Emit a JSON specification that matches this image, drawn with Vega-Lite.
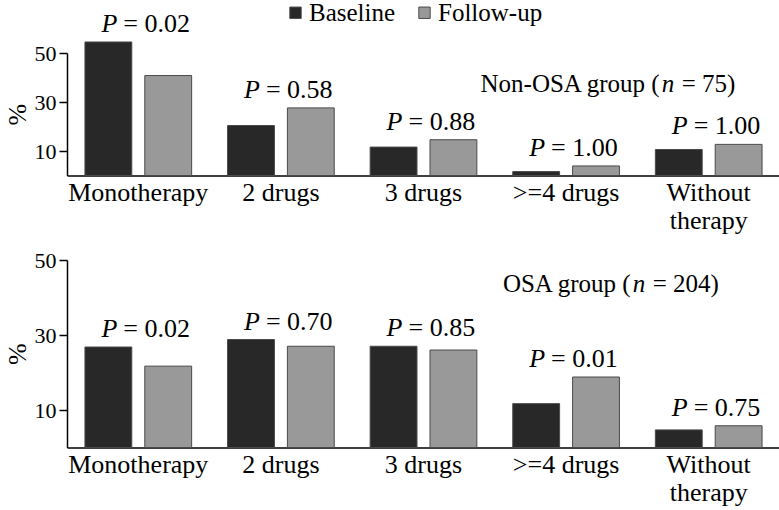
{
  "$schema": "https://vega.github.io/schema/vega-lite/v6.json",
  "background": "white",
  "padding": {"left": 4, "top": 0, "right": 0, "bottom": 0},
  "datasets": {
    "d": [
      {"panel": "Non-OSA", "category": "Monotherapy", "series": "Baseline", "value": 54.5, "ptext": "= 0.02"},
      {"panel": "Non-OSA", "category": "Monotherapy", "series": "Follow-up", "value": 40.8, "ptext": "= 0.02"},
      {"panel": "Non-OSA", "category": "2 drugs", "series": "Baseline", "value": 20.4, "ptext": "= 0.58"},
      {"panel": "Non-OSA", "category": "2 drugs", "series": "Follow-up", "value": 27.6, "ptext": "= 0.58"},
      {"panel": "Non-OSA", "category": "3 drugs", "series": "Baseline", "value": 11.6, "ptext": "= 0.88"},
      {"panel": "Non-OSA", "category": "3 drugs", "series": "Follow-up", "value": 14.6, "ptext": "= 0.88"},
      {"panel": "Non-OSA", "category": ">=4 drugs", "series": "Baseline", "value": 1.6, "ptext": "= 1.00"},
      {"panel": "Non-OSA", "category": ">=4 drugs", "series": "Follow-up", "value": 3.9, "ptext": "= 1.00"},
      {"panel": "Non-OSA", "category": "Without therapy", "series": "Baseline", "value": 10.6, "ptext": "= 1.00"},
      {"panel": "Non-OSA", "category": "Without therapy", "series": "Follow-up", "value": 12.7, "ptext": "= 1.00"},
      {"panel": "OSA", "category": "Monotherapy", "series": "Baseline", "value": 26.8, "ptext": "= 0.02"},
      {"panel": "OSA", "category": "Monotherapy", "series": "Follow-up", "value": 21.7, "ptext": "= 0.02"},
      {"panel": "OSA", "category": "2 drugs", "series": "Baseline", "value": 28.8, "ptext": "= 0.70"},
      {"panel": "OSA", "category": "2 drugs", "series": "Follow-up", "value": 27.0, "ptext": "= 0.70"},
      {"panel": "OSA", "category": "3 drugs", "series": "Baseline", "value": 27.0, "ptext": "= 0.85"},
      {"panel": "OSA", "category": "3 drugs", "series": "Follow-up", "value": 26.0, "ptext": "= 0.85"},
      {"panel": "OSA", "category": ">=4 drugs", "series": "Baseline", "value": 11.7, "ptext": "= 0.01"},
      {"panel": "OSA", "category": ">=4 drugs", "series": "Follow-up", "value": 18.8, "ptext": "= 0.01"},
      {"panel": "OSA", "category": "Without therapy", "series": "Baseline", "value": 4.7, "ptext": "= 0.75"},
      {"panel": "OSA", "category": "Without therapy", "series": "Follow-up", "value": 5.8, "ptext": "= 0.75"}
    ],
    "labels": [
      {"panel": "Non-OSA", "part1": "Non-OSA group (", "n": "n", "part3": "= 75)", "ly": 34.1},
      {"panel": "OSA", "part1": "OSA group (", "n": "n", "part3": "= 204)", "ly": 41.5}
    ]
  },
  "config": {
    "font": "Liberation Serif, Times New Roman, serif",
    "view": {"stroke": null},
    "axis": {"labelColor": "black", "domainColor": "black", "tickColor": "black", "titleColor": "black", "grid": false, "labelFont": "Liberation Serif, Times New Roman, serif", "titleFont": "Liberation Serif, Times New Roman, serif"},
    "legend": {"labelFont": "Liberation Serif, Times New Roman, serif", "labelColor": "black"},
    "text": {"font": "Liberation Serif, Times New Roman, serif", "color": "black"}
  },
  "spacing": 15,
  "vconcat": [
    {
      "width": 713,
      "height": 122.5,
      "layer": [
        {
          "data": {"name": "d"},
          "transform": [{"filter": "datum.panel == 'Non-OSA'"}],
          "mark": {"type": "bar", "clip": false, "stroke": "#4a4a4a", "strokeWidth": 1},
          "encoding": {
            "x": {"field": "category", "type": "nominal", "sort": ["Monotherapy", "2 drugs", "3 drugs", ">=4 drugs", "Without therapy"], "scale": {"paddingInner": 0, "paddingOuter": 0},
              "axis": {"title": null, "labelAngle": 0, "ticks": false, "domainWidth": 1.5, "labelFontSize": 26, "labelPadding": 4, "labelLineHeight": 28, "labelBaseline": "top",
                "labelExpr": "datum.label == 'Without therapy' ? ['Without', 'therapy'] : datum.label"}},
            "xOffset": {"field": "series", "type": "nominal", "sort": ["Baseline", "Follow-up"], "scale": {"paddingInner": 0.217, "paddingOuter": 0.3}},
            "y": {"field": "value", "type": "quantitative", "scale": {"domain": [0, 50], "nice": false},
              "axis": {"title": "%", "titleFontSize": 26, "titleFontWeight": "normal", "titlePadding": 4, "values": [10, 30, 50], "tickSize": 8, "domainWidth": 1.5, "tickWidth": 1.5, "labelFontSize": 22, "labelPadding": 3}},
            "color": {"field": "series", "type": "nominal", "scale": {"domain": ["Baseline", "Follow-up"], "range": ["#282828", "#999999"]},
              "legend": {"title": null, "orient": "none", "legendX": 216, "legendY": -53, "direction": "horizontal", "symbolType": "square", "symbolSize": 130, "symbolStrokeColor": "#333", "symbolStrokeWidth": 1, "labelFontSize": 25, "columnPadding": 16, "symbolOffset": 0, "labelOffset": 1}}
          }
        },
        {
          "data": {"name": "d"},
          "transform": [{"filter": "datum.panel == 'Non-OSA'"}],
          "mark": {"type": "text", "text": "P", "fontStyle": "italic", "fontSize": 26, "align": "right", "baseline": "alphabetic", "dx": -21, "dy": -10},
          "encoding": {
            "x": {"field": "category", "type": "nominal", "sort": ["Monotherapy", "2 drugs", "3 drugs", ">=4 drugs", "Without therapy"]},
            "y": {"aggregate": "max", "field": "value", "type": "quantitative"}
          }
        },
        {
          "data": {"name": "d"},
          "transform": [{"filter": "datum.panel == 'Non-OSA'"}],
          "mark": {"type": "text", "fontSize": 26, "align": "left", "baseline": "alphabetic", "dx": -15, "dy": -10},
          "encoding": {
            "x": {"field": "category", "type": "nominal", "sort": ["Monotherapy", "2 drugs", "3 drugs", ">=4 drugs", "Without therapy"]},
            "y": {"aggregate": "max", "field": "value", "type": "quantitative"},
            "text": {"field": "ptext", "type": "nominal"}
          }
        },
        {
          "data": {"name": "labels"},
          "transform": [{"filter": "datum.panel == 'Non-OSA'"}],
          "mark": {"type": "text", "fontSize": 25, "align": "right", "baseline": "alphabetic", "dx": -49},
          "encoding": {
            "x": {"datum": "Without therapy", "type": "nominal"},
            "y": {"field": "ly", "type": "quantitative"},
            "text": {"field": "part1", "type": "nominal"}
          }
        },
        {
          "data": {"name": "labels"},
          "transform": [{"filter": "datum.panel == 'Non-OSA'"}],
          "mark": {"type": "text", "fontSize": 25, "fontStyle": "italic", "align": "left", "baseline": "alphabetic", "dx": -47},
          "encoding": {
            "x": {"datum": "Without therapy", "type": "nominal"},
            "y": {"field": "ly", "type": "quantitative"},
            "text": {"field": "n", "type": "nominal"}
          }
        },
        {
          "data": {"name": "labels"},
          "transform": [{"filter": "datum.panel == 'Non-OSA'"}],
          "mark": {"type": "text", "fontSize": 25, "align": "left", "baseline": "alphabetic", "dx": -27},
          "encoding": {
            "x": {"datum": "Without therapy", "type": "nominal"},
            "y": {"field": "ly", "type": "quantitative"},
            "text": {"field": "part3", "type": "nominal"}
          }
        }
      ]
    },
    {
      "width": 713,
      "height": 187.5,
      "layer": [
        {
          "data": {"name": "d"},
          "transform": [{"filter": "datum.panel == 'OSA'"}],
          "mark": {"type": "bar", "clip": false, "stroke": "#4a4a4a", "strokeWidth": 1},
          "encoding": {
            "x": {"field": "category", "type": "nominal", "sort": ["Monotherapy", "2 drugs", "3 drugs", ">=4 drugs", "Without therapy"], "scale": {"paddingInner": 0, "paddingOuter": 0},
              "axis": {"title": null, "labelAngle": 0, "ticks": false, "domainWidth": 1.5, "labelFontSize": 26, "labelPadding": 4, "labelLineHeight": 28, "labelBaseline": "top",
                "labelExpr": "datum.label == 'Without therapy' ? ['Without', 'therapy'] : datum.label"}},
            "xOffset": {"field": "series", "type": "nominal", "sort": ["Baseline", "Follow-up"], "scale": {"paddingInner": 0.217, "paddingOuter": 0.3}},
            "y": {"field": "value", "type": "quantitative", "scale": {"domain": [0, 50], "nice": false},
              "axis": {"title": "%", "titleFontSize": 26, "titleFontWeight": "normal", "titlePadding": 4, "values": [10, 30, 50], "tickSize": 8, "domainWidth": 1.5, "tickWidth": 1.5, "labelFontSize": 22, "labelPadding": 3}},
            "color": {"field": "series", "type": "nominal", "scale": {"domain": ["Baseline", "Follow-up"], "range": ["#282828", "#999999"]}}
          }
        },
        {
          "data": {"name": "d"},
          "transform": [{"filter": "datum.panel == 'OSA'"}],
          "mark": {"type": "text", "text": "P", "fontStyle": "italic", "fontSize": 26, "align": "right", "baseline": "alphabetic", "dx": -21, "dy": -10},
          "encoding": {
            "x": {"field": "category", "type": "nominal", "sort": ["Monotherapy", "2 drugs", "3 drugs", ">=4 drugs", "Without therapy"]},
            "y": {"aggregate": "max", "field": "value", "type": "quantitative"}
          }
        },
        {
          "data": {"name": "d"},
          "transform": [{"filter": "datum.panel == 'OSA'"}],
          "mark": {"type": "text", "fontSize": 26, "align": "left", "baseline": "alphabetic", "dx": -15, "dy": -10},
          "encoding": {
            "x": {"field": "category", "type": "nominal", "sort": ["Monotherapy", "2 drugs", "3 drugs", ">=4 drugs", "Without therapy"]},
            "y": {"aggregate": "max", "field": "value", "type": "quantitative"},
            "text": {"field": "ptext", "type": "nominal"}
          }
        },
        {
          "data": {"name": "labels"},
          "transform": [{"filter": "datum.panel == 'OSA'"}],
          "mark": {"type": "text", "fontSize": 25, "align": "right", "baseline": "alphabetic", "dx": -78},
          "encoding": {
            "x": {"datum": "Without therapy", "type": "nominal"},
            "y": {"field": "ly", "type": "quantitative"},
            "text": {"field": "part1", "type": "nominal"}
          }
        },
        {
          "data": {"name": "labels"},
          "transform": [{"filter": "datum.panel == 'OSA'"}],
          "mark": {"type": "text", "fontSize": 25, "fontStyle": "italic", "align": "left", "baseline": "alphabetic", "dx": -76},
          "encoding": {
            "x": {"datum": "Without therapy", "type": "nominal"},
            "y": {"field": "ly", "type": "quantitative"},
            "text": {"field": "n", "type": "nominal"}
          }
        },
        {
          "data": {"name": "labels"},
          "transform": [{"filter": "datum.panel == 'OSA'"}],
          "mark": {"type": "text", "fontSize": 25, "align": "left", "baseline": "alphabetic", "dx": -56},
          "encoding": {
            "x": {"datum": "Without therapy", "type": "nominal"},
            "y": {"field": "ly", "type": "quantitative"},
            "text": {"field": "part3", "type": "nominal"}
          }
        }
      ]
    }
  ]
}
